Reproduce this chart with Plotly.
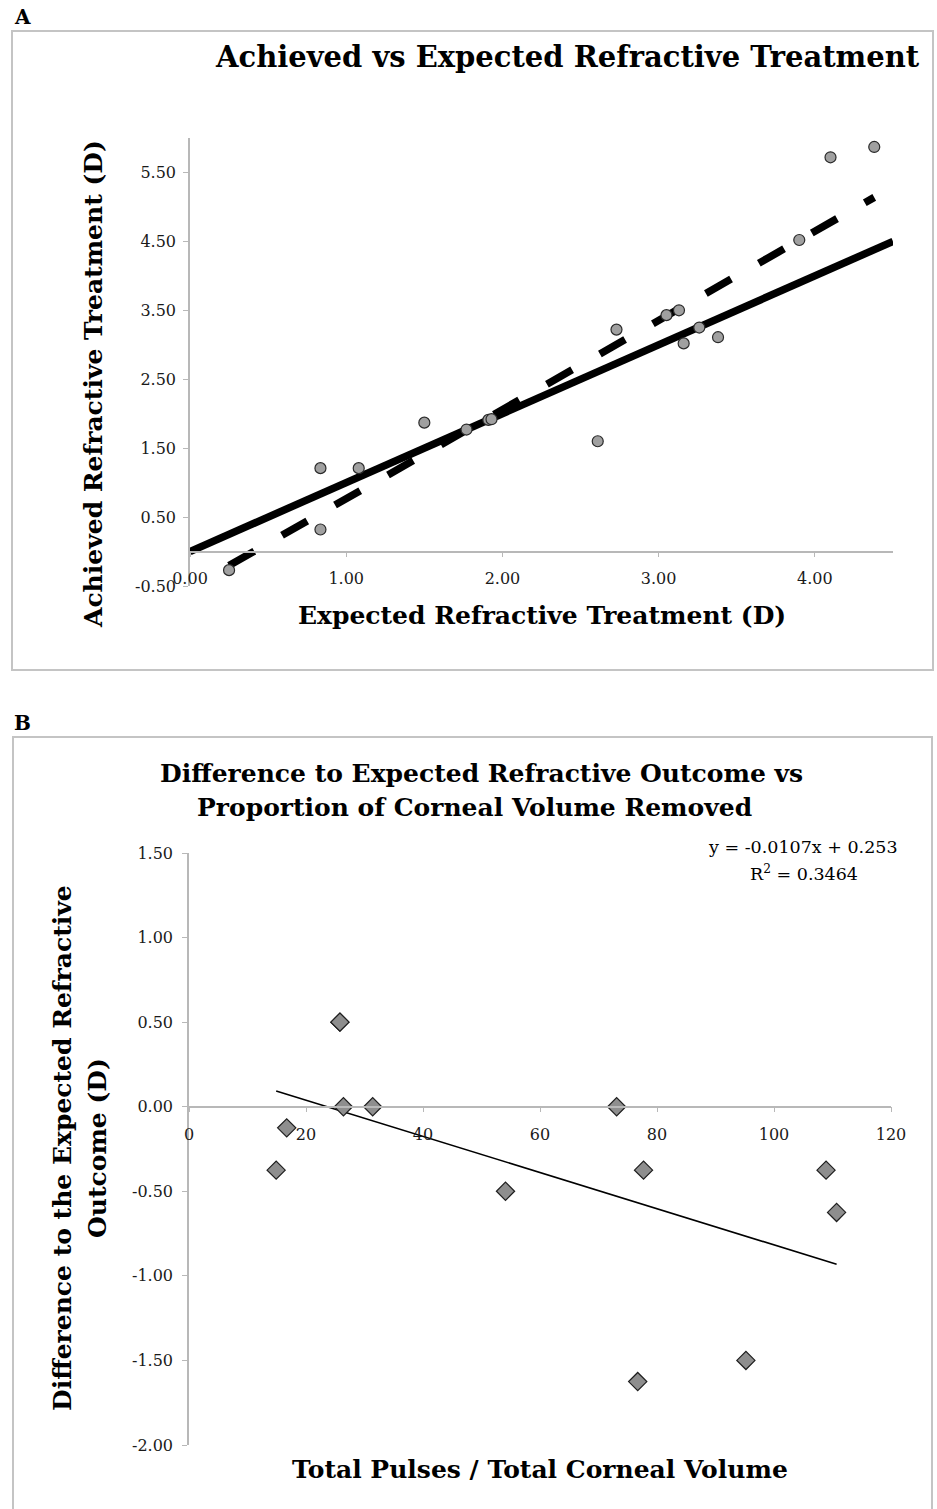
import numpy as np
import plotly.graph_objects as go

W, H = 937, 1509

# ---------------- Panel A data ----------------
expected = [0.25, 0.835, 0.835, 1.08, 1.50, 1.77, 1.91, 1.93, 2.61, 2.73,
            3.05, 3.13, 3.16, 3.26, 3.38, 3.90, 4.10, 4.38]
achieved = [-0.27, 1.21, 0.32, 1.21, 1.87, 1.77, 1.91, 1.92, 1.60, 3.22,
            3.43, 3.50, 3.02, 3.25, 3.11, 4.52, 5.72, 5.87]
identity_x = [0.0, 4.5]
a_xticks = [0, 1, 2, 3, 4]
a_yticks = [-0.5, 0.5, 1.5, 2.5, 3.5, 4.5, 5.5]
a_xrange = [0, 4.5]
a_yrange = [-0.5, 6.0]

# ---------------- Panel B data ----------------
pulses_per_volume = [14.9, 16.7, 25.8, 25.8, 26.4, 31.4, 54.1, 73.1, 77.7,
                     76.7, 95.2, 108.9, 110.7]
diff_outcome = [-0.375, -0.125, 0.5, 0.5, 0.0, 0.0, -0.5, 0.0, -0.375,
                -1.625, -1.5, -0.375, -0.625]
trend_slope = -0.0107
trend_intercept = 0.253
r_squared = 0.3464
b_xticks = [0, 20, 40, 60, 80, 100, 120]
b_yticks = [-2.0, -1.5, -1.0, -0.5, 0.0, 0.5, 1.0, 1.5]
b_xrange = [0, 120]
b_yrange = [-2.0, 1.5]

SERIF = "DejaVu Serif"
AXC = "#b8b8b8"
TXT = "#1a1a1a"


def px(x):
    return x / W


def py(y):
    return 1 - y / H


def fmt2(vals):
    return [f"{v:.2f}" for v in vals]


fig = go.Figure()

# Panel A traces
fig.add_trace(go.Scatter(x=identity_x, y=identity_x, mode="lines",
                         line=dict(color="black", width=7.5),
                         xaxis="x", yaxis="y", showlegend=False))
slope_a, icpt_a = np.polyfit(expected, achieved, 1)
fit_x = np.array([min(expected), max(expected)])
fig.add_trace(go.Scatter(x=fit_x, y=slope_a * fit_x + icpt_a, mode="lines",
                         line=dict(color="black", width=7.5, dash="29px,32px"),
                         xaxis="x", yaxis="y", showlegend=False))
fig.add_trace(go.Scatter(x=expected, y=achieved, mode="markers",
                         marker=dict(symbol="circle", size=11, color="#a0a0a0",
                                     line=dict(color="#2a2a2a", width=1.2)),
                         xaxis="x", yaxis="y", showlegend=False))

# Panel B traces
tx = np.array([min(pulses_per_volume), max(pulses_per_volume)])
fig.add_trace(go.Scatter(x=tx, y=trend_slope * tx + trend_intercept, mode="lines",
                         line=dict(color="black", width=1.6),
                         xaxis="x2", yaxis="y2", showlegend=False))
fig.add_trace(go.Scatter(x=pulses_per_volume, y=diff_outcome, mode="markers",
                         marker=dict(symbol="diamond", size=14, color="#8e8e8e",
                                     line=dict(color="#1e1e1e", width=1.2)),
                         xaxis="x2", yaxis="y2", showlegend=False))

# domains
a_ydom = [py(586), py(138)]
b_ydom = [py(1445), py(853)]


def zero_pos(dom, rng):
    return dom[0] + (0 - rng[0]) / (rng[1] - rng[0]) * (dom[1] - dom[0])


tickfont = dict(family=SERIF, size=16, color=TXT)
common = dict(showgrid=False, zeroline=False, showline=True, linecolor=AXC,
              linewidth=1.5, ticks="outside", ticklen=5, tickcolor=AXC,
              tickwidth=1.2, tickfont=tickfont, automargin=False)

fig.update_layout(
    template="none",
    width=W, height=H, autosize=False,
    margin=dict(l=0, r=0, t=0, b=0, pad=0),
    paper_bgcolor="white", plot_bgcolor="rgba(0,0,0,0)",
    xaxis=dict(domain=[px(190), px(893)], range=a_xrange, tickvals=a_xticks,
               ticktext=fmt2(a_xticks),
               anchor="free", position=zero_pos(a_ydom, a_yrange),
               ticklabelstandoff=8, **common),
    yaxis=dict(domain=a_ydom, range=a_yrange, tickvals=a_yticks,
               ticktext=fmt2(a_yticks), anchor="x",
               ticklabelstandoff=4, **common),
    xaxis2=dict(domain=[px(189), px(891)], range=b_xrange, tickvals=b_xticks,
                ticktext=[str(v) for v in b_xticks],
                anchor="free", position=zero_pos(b_ydom, b_yrange),
                ticklabelstandoff=8, **common),
    yaxis2=dict(domain=b_ydom, range=b_yrange, tickvals=b_yticks,
                ticktext=fmt2(b_yticks), anchor="x2",
                ticklabelstandoff=6, **common),
)

# panel borders
fig.add_shape(type="rect", xref="paper", yref="paper", x0=px(12), x1=px(933),
              y0=py(670), y1=py(31), line=dict(color="#c4c4c4", width=2))
fig.add_shape(type="rect", xref="paper", yref="paper", x0=px(13), x1=px(932),
              y0=py(1515), y1=py(737), line=dict(color="#c4c4c4", width=2))


def ann(text, x, y, size, bold=True, angle=0, xanchor="center"):
    fig.add_annotation(text=f"<b>{text}</b>" if bold else text,
                       x=px(x), y=py(y), xref="paper", yref="paper",
                       showarrow=False, textangle=angle, xanchor=xanchor,
                       yanchor="middle",
                       font=dict(family=SERIF, size=size, color="black"))


ann("A", 12, 17, 20, xanchor="left")
ann("Achieved vs Expected Refractive Treatment", 567, 57, 29)
ann("Expected Refractive Treatment (D)", 542, 615, 25)
ann("Achieved Refractive Treatment (D)", 94, 384, 25, angle=-90)

ann("B", 12, 723, 20, xanchor="left")
ann("Difference to Expected Refractive Outcome vs", 481, 773, 25)
ann("Proportion of Corneal Volume Removed", 474, 808, 25)
ann("Difference to the Expected Refractive", 62, 1148, 25, angle=-90)
ann("Outcome (D)", 97, 1148, 25, angle=-90)
ann("Total Pulses / Total Corneal Volume", 540, 1469, 25)

eq1 = f"y = {trend_slope:.4f}x + {trend_intercept:.3f}"
eq2 = f"R<sup>2</sup> = {r_squared:.4f}"
ann(eq1, 803, 847, 17.5, bold=False)
ann(eq2, 804, 873, 17.5, bold=False)

fig.write_html("out.html", config={"responsive": False})
